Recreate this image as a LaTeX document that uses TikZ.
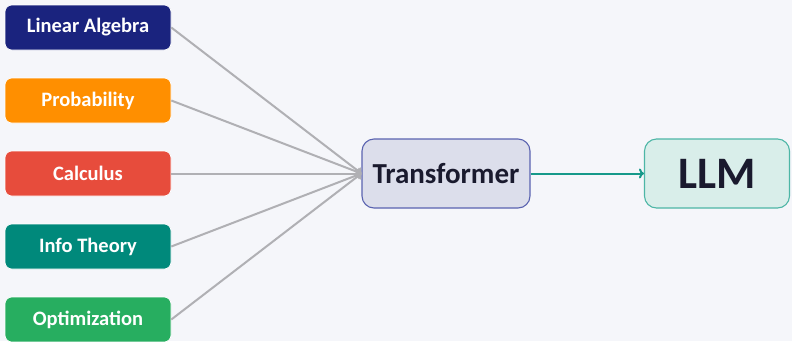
\documentclass[tikz,border=0pt]{standalone}
\usepackage{fontspec}
\setmainfont{Carlito}
\usetikzlibrary{arrows.meta}
\definecolor{bgc}{HTML}{F5F6FA}
\definecolor{cnavy}{HTML}{1A237E}
\definecolor{corange}{HTML}{FF8F00}
\definecolor{cred}{HTML}{E74C3C}
\definecolor{cteal}{HTML}{00897B}
\definecolor{cgreen}{HTML}{27AE60}
\definecolor{trfill}{HTML}{DCDEEB}
\definecolor{trdraw}{HTML}{5A63B0}
\definecolor{llmfill}{HTML}{D9EEEA}
\definecolor{llmdraw}{HTML}{4DB6A6}
\definecolor{darktext}{HTML}{1A1A2E}
\definecolor{graylink}{HTML}{B0B0B4}
\definecolor{tealarrow}{HTML}{16998A}
\begin{document}
\begin{tikzpicture}[x=1pt,y=-1pt,
  topic/.style={rounded corners=7pt, minimum width=166pt, minimum height=45pt, inner sep=0pt,
     text=white, font=\bfseries\fontsize{20.5}{24}\selectfont, draw=white, line width=0.6pt},
  bigbox/.style={rounded corners=12pt, minimum height=69pt, inner sep=0pt, line width=1.1pt,
     text=darktext, font=\bfseries},
  feedlink/.style={draw=graylink, line width=2pt, -{To[length=5pt,width=9pt]}},
  outlink/.style={draw=tealarrow, line width=2pt, -{To[length=5pt,width=10pt]}}
  ]
\fill[bgc] (0,0) rectangle (792,341);
\useasboundingbox (0,0) rectangle (792,341);
\node[topic, fill=cnavy] (la) at (88,27.5) {Linear Algebra};
\node[topic, fill=corange] (pr) at (88,100.5) {Probability};
\node[topic, fill=cred] (ca) at (88,173.5) {Calculus};
\node[topic, fill=cteal] (it) at (88,246.5) {Info Theory};
\node[topic, fill=cgreen] (op) at (88,319.5) {Optimization};
\node[bigbox, fill=trfill, draw=trdraw, minimum width=168pt, font=\bfseries\fontsize{29}{32}\selectfont] (tr) at (446,173.5) {Transformer};
\node[bigbox, fill=llmfill, draw=llmdraw, minimum width=145pt, font=\bfseries\fontsize{45}{48}\selectfont] (llm) at (717,173.5) {LLM};
\foreach \n in {la,pr,ca,it,op} \draw[feedlink] (\n.east) -- (tr.west);
\draw[outlink] (tr.east) -- (llm.west);
\end{tikzpicture}
\end{document}
